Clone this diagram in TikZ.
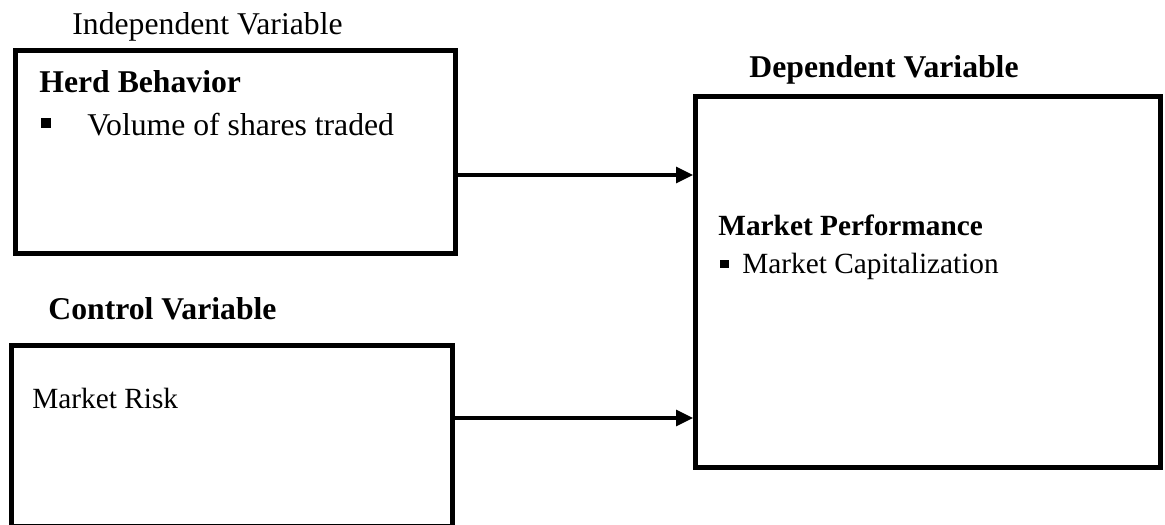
\documentclass[tikz,border=0pt]{standalone}
\usepackage{fontspec}
\setmainfont{Liberation Serif}
\usetikzlibrary{arrows.meta}

\begin{document}
\begin{tikzpicture}[x=0.5pt,y=-0.5pt,>={Triangle[length=8.5pt,width=8pt]},
                    box/.style={draw,line width=2.5pt,inner sep=0pt},
                    head/.style={anchor=base west,inner sep=0pt,font=\fontsize{15.85}{19}\selectfont},
                    body/.style={anchor=base west,inner sep=0pt,font=\fontsize{14.65}{17.5}\selectfont},
                    square/.style={fill,inner sep=0pt,minimum size=4.6pt},
                    link/.style={->,line width=1.6pt}]
                \useasboundingbox (0,0) rectangle (1165,524);
                % boxes
                \node[box,minimum width=220pt,minimum height=101pt] (herd) at (235,152) {};
                \node[box,minimum width=220.5pt,minimum height=90.5pt] (ctrl) at (231.5,435.5) {};
                \node[box,minimum width=232.5pt,minimum height=185.25pt] (dep) at (928,282) {};
                % titles
                \node[head] (indlab) at (72,35) {Independent Variable};
                \node[head,font=\fontsize{15.85}{19}\selectfont\bfseries] (deplab) at (749,77) {Dependent Variable};
                \node[head,font=\fontsize{15.85}{19}\selectfont\bfseries] (ctrllab) at (48,319) {Control Variable};
                % box contents
                \node[head,font=\fontsize{15.85}{19}\selectfont\bfseries] (herdname) at (39,92) {Herd Behavior};
                \node[square] (herddot) at (46,123) {};
                \node[head] (herditem) at (87,135) {Volume of shares traded};
                \node[body,font=\fontsize{14.65}{17.5}\selectfont\bfseries] (depname) at (718,235) {Market Performance};
                \node[square,minimum size=4.3pt] (depdot) at (724.5,264) {};
                \node[body] (depitem) at (742,273) {Market Capitalization};
                \node[body] (ctrlname) at (32,408) {Market Risk};
                % arrows
                \draw[link] (herd.east |- 0,175) -- (dep.west |- 0,175);
                \draw[link] (ctrl.east |- 0,418) -- (dep.west |- 0,418);
\end{tikzpicture}
\end{document}
